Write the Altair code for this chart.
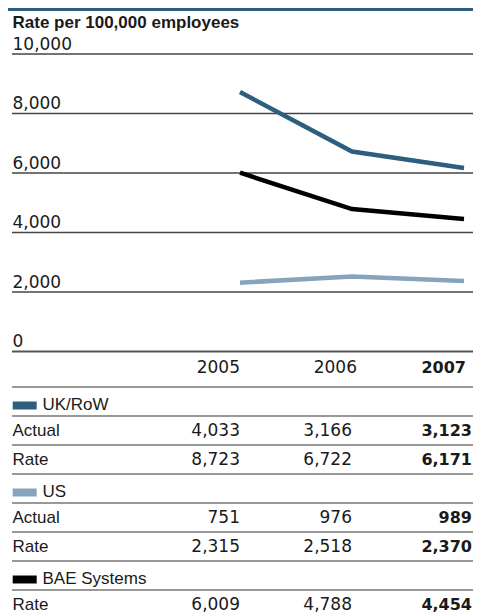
import altair as alt
import pandas as pd

# ---------------- data ----------------
years = [2005, 2006, 2007]
series_names = ["UK/RoW", "US", "BAE Systems"]
series_colors = ["#2d5e7d", "#88a3bc", "#000000"]

uk_actual = [4033, 3166, 3123]
uk_rate = [8723, 6722, 6171]
us_actual = [751, 976, 989]
us_rate = [2315, 2518, 2370]
bae_rate = [6009, 4788, 4454]

y_ticks = [0, 2000, 4000, 6000, 8000, 10000]
title_text = ["Rate per 100,000 employees"]

row_labels = ["UK/RoW", "Actual", "Rate", "US", "Actual", "Rate", "BAE Systems", "Rate"]
row_series = ["UK/RoW", None, None, "US", None, None, "BAE Systems", None]
row_values = [None, uk_actual, uk_rate, None, us_actual, us_rate, None, bae_rate]

# ---------------- tables ----------------
lines_df = pd.DataFrame(
    [
        {"series": s, "year": y, "rate": r}
        for s, rates in zip(series_names, [uk_rate, us_rate, bae_rate])
        for y, r in zip(years, rates)
    ]
)
ticks_df = pd.DataFrame({"tick": y_ticks})
title_df = pd.DataFrame({"t": title_text})

rows_df = pd.DataFrame(
    {
        "row": list(range(len(row_labels))),
        "label": row_labels,
        "series": row_series,
        "kind": ["group" if s else "value" for s in row_series],
    }
)
cells_df = pd.DataFrame(
    [
        {"row": i, "year": y, "val": v}
        for i, vals in enumerate(row_values)
        if vals is not None
        for y, v in zip(years, vals)
    ]
)
header_df = pd.DataFrame({"year": years, "row": [-1] * len(years)})
rules_df = pd.DataFrame({"row": list(range(-1, len(row_labels) - 1))})

W, H = 465, 606
NUM_FONT = "DejaVu Sans"
TXT_FONT = "Liberation Sans"
INK = "#1a1a1a"
header_dx = [0, 5, 2]   # small per-column nudges of the year headings

xs = alt.Scale(domain=[2005, 2007], range=[232, 456])
ys_rate = alt.Scale(domain=[0, 10000], range=[343.5, 46], nice=False, zero=False)
ys_row = alt.Scale(domain=[-1, 6], range=[379, 582], nice=False, zero=False)
cs = alt.Scale(domain=series_names, range=series_colors)

# ---------------- top: band + title ----------------
band = alt.Chart(title_df).mark_rect(color="#2d5e7d").encode(
    x=alt.value(0), x2=alt.value(W), y=alt.value(0), y2=alt.value(3)
)
title = alt.Chart(title_df).mark_text(
    align="left", baseline="alphabetic", font=TXT_FONT, fontSize=17,
    fontWeight="bold", color=INK
).encode(text="t:N", x=alt.value(4.5), y=alt.value(20))

# ---------------- line chart ----------------
grid = alt.Chart(ticks_df).mark_rule().encode(
    y=alt.Y("tick:Q", scale=ys_rate, axis=None),
    x=alt.value(4), x2=alt.value(W),
    color=alt.condition("datum.tick == 0", alt.value("#555555"), alt.value("#444444")),
    strokeWidth=alt.condition("datum.tick == 0", alt.value(2.2), alt.value(1.3)),
)
grid_labels = alt.Chart(ticks_df).mark_text(
    align="left", baseline="alphabetic", dy=-4.5, font=NUM_FONT, fontSize=17, color=INK
).encode(
    y=alt.Y("tick:Q", scale=ys_rate, axis=None),
    x=alt.value(4.5),
    text=alt.Text("tick:Q", format=","),
)
lines = alt.Chart(lines_df).mark_line(strokeWidth=4.5, strokeCap="butt").encode(
    x=alt.X("year:Q", scale=xs, axis=None),
    y=alt.Y("rate:Q", scale=ys_rate, axis=None),
    color=alt.Color("series:N", scale=cs, legend=None),
    detail="series:N",
)
top = alt.layer(grid, grid_labels, lines)

# ---------------- table ----------------
rules = alt.Chart(rules_df).mark_rule(color="#777777", strokeWidth=1.6).encode(
    y=alt.Y("row:Q", scale=ys_row, axis=None),
    x=alt.value(4), x2=alt.value(W),
)
swatches = alt.Chart(rows_df).transform_filter("datum.kind == 'group'").transform_calculate(
    sy="datum.row - 10.5/29"
).mark_rule(strokeWidth=8, strokeCap="butt").encode(
    y=alt.Y("sy:Q", scale=ys_row, axis=None),
    x=alt.value(4.7), x2=alt.value(28.7),
    color=alt.Color("series:N", scale=cs, legend=None),
)
group_labels = alt.Chart(rows_df).transform_filter("datum.kind == 'group'").mark_text(
    align="left", baseline="alphabetic", dy=-6, font=TXT_FONT, fontSize=17, color=INK
).encode(
    y=alt.Y("row:Q", scale=ys_row, axis=None), x=alt.value(34.5), text="label:N"
)
value_labels = alt.Chart(rows_df).transform_filter("datum.kind == 'value'").mark_text(
    align="left", baseline="alphabetic", dy=-9, font=TXT_FONT, fontSize=17, color=INK
).encode(
    y=alt.Y("row:Q", scale=ys_row, axis=None), x=alt.value(4.5), text="label:N"
)
cells_reg = alt.Chart(cells_df).transform_filter("datum.year < 2007").mark_text(
    align="right", baseline="alphabetic", dy=-9, font=NUM_FONT, fontSize=17, color=INK
).encode(
    y=alt.Y("row:Q", scale=ys_row, axis=None),
    x=alt.X("year:Q", scale=xs, axis=None),
    text=alt.Text("val:Q", format=","),
)
cells_bold = alt.Chart(cells_df).transform_filter("datum.year == 2007").mark_text(
    align="right", baseline="alphabetic", dy=-9, dx=8, font=NUM_FONT, fontSize=16,
    fontWeight="bold", color=INK
).encode(
    y=alt.Y("row:Q", scale=ys_row, axis=None),
    x=alt.X("year:Q", scale=xs, axis=None),
    text=alt.Text("val:Q", format=","),
)
headers = []
for yr, ddx in zip(years, header_dx):
    bold = yr == years[-1]
    headers.append(
        alt.Chart(header_df).transform_filter(f"datum.year == {yr}").mark_text(
            align="right", baseline="alphabetic", dy=-14, dx=ddx, font=NUM_FONT,
            fontSize=16 if bold else 17, fontWeight="bold" if bold else "normal", color=INK
        ).encode(
            y=alt.Y("row:Q", scale=ys_row, axis=None),
            x=alt.X("year:Q", scale=xs, axis=None),
            text=alt.Text("year:Q", format="d"),
        )
    )
table = alt.layer(rules, swatches, group_labels, value_labels, cells_reg, cells_bold, *headers)

chart = (
    alt.layer(top, table, band, title)
    .resolve_scale(y="independent")
    .properties(width=W, height=H, autosize=alt.AutoSizeParams(type="none"), padding=0)
    .configure_view(stroke=None)
)

chart.save("out.html", embed_options={"renderer": "svg", "actions": False})
